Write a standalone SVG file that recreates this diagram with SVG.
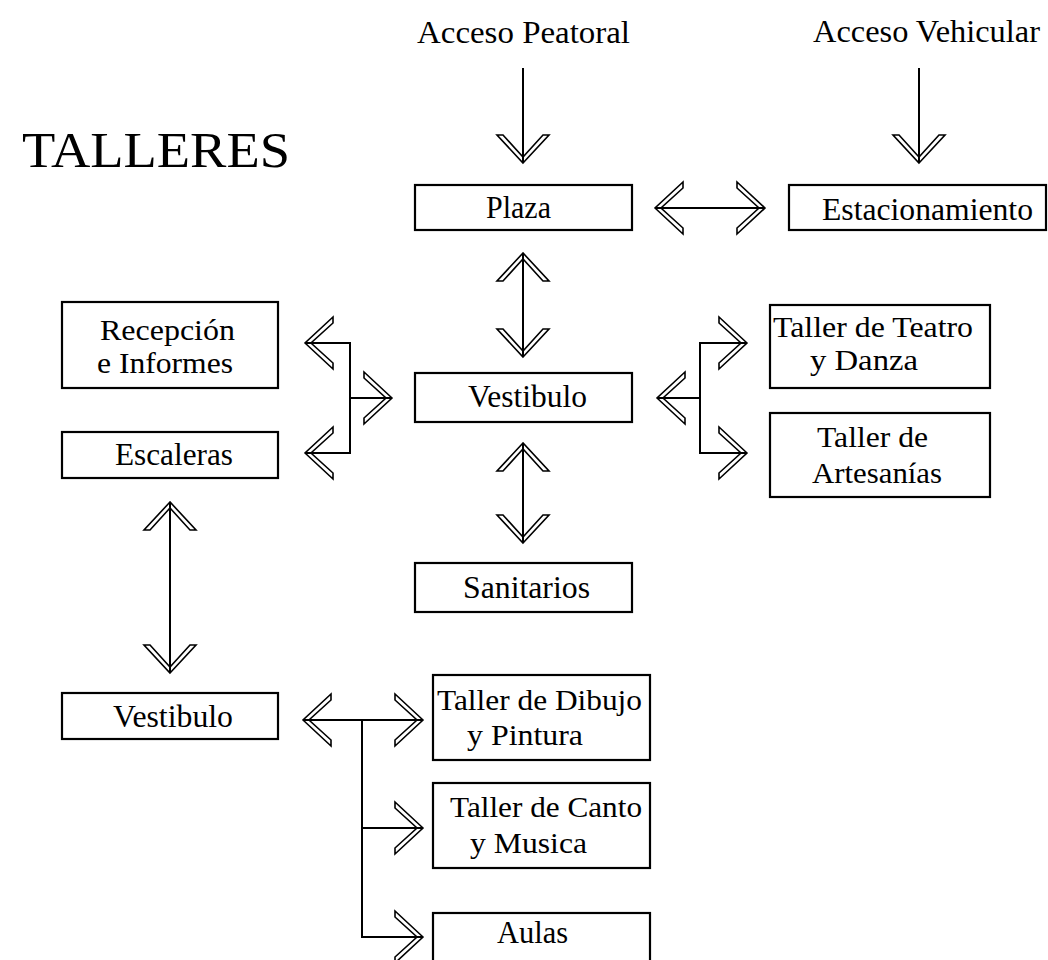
<svg xmlns="http://www.w3.org/2000/svg" xmlns:xlink="http://www.w3.org/1999/xlink" width="1048" height="960" viewBox="0 0 1048 960">
<style>
.box{fill:#fff;stroke:#000;stroke-width:2.2}
.t{font-family:"Liberation Serif","Times New Roman",serif;font-size:31px;fill:#000}
.t2{font-family:"Liberation Serif","Times New Roman",serif;font-size:29.5px;fill:#000}
.title{font-family:"Liberation Serif","Times New Roman",serif;font-size:51px;fill:#000}
.ln{fill:none;stroke:#000;stroke-width:2}
.ch{fill:none;stroke:#000;stroke-width:1.6;stroke-linejoin:miter}
</style>
<defs>
<polygon id="chR" points="0,0 -28,-26 -28,-20 -6,0 -28,20 -28,26"/>
</defs>
<rect width="1048" height="960" fill="#fff"/>
<text class="title" x="22" y="167" textLength="268" lengthAdjust="spacingAndGlyphs">TALLERES</text>
<text class="t" x="417" y="43" textLength="213" lengthAdjust="spacingAndGlyphs">Acceso Peatoral</text>
<text class="t" x="813" y="42" textLength="227" lengthAdjust="spacingAndGlyphs">Acceso Vehicular</text>

<g id="plaza"><rect class="box" x="415" y="185" width="217" height="45"/><text class="t" x="486" y="218" textLength="65" lengthAdjust="spacingAndGlyphs">Plaza</text></g>
<g id="estacionamiento"><rect class="box" x="789" y="185" width="257" height="45"/><text class="t" x="822" y="220" textLength="211" lengthAdjust="spacingAndGlyphs">Estacionamiento</text></g>
<g id="recepcion"><rect class="box" x="62" y="302" width="216" height="86"/><text class="t2" x="100" y="340" textLength="135" lengthAdjust="spacingAndGlyphs">Recepción</text><text class="t2" x="97" y="373" textLength="136" lengthAdjust="spacingAndGlyphs">e Informes</text></g>
<g id="escaleras"><rect class="box" x="62" y="432" width="216" height="46"/><text class="t" x="115" y="465" textLength="118" lengthAdjust="spacingAndGlyphs">Escaleras</text></g>
<g id="vestibulo1"><rect class="box" x="415" y="373" width="217" height="49"/><text class="t" x="468" y="407" textLength="119" lengthAdjust="spacingAndGlyphs">Vestibulo</text></g>
<g id="teatro"><rect class="box" x="770" y="305" width="220" height="83"/><text class="t2" x="773" y="337" textLength="200" lengthAdjust="spacingAndGlyphs">Taller de Teatro</text><text class="t2" x="810" y="370" textLength="108" lengthAdjust="spacingAndGlyphs">y Danza</text></g>
<g id="artesanias"><rect class="box" x="770" y="413" width="220" height="84"/><text class="t2" x="817" y="447" textLength="111" lengthAdjust="spacingAndGlyphs">Taller de</text><text class="t2" x="812" y="483" textLength="130" lengthAdjust="spacingAndGlyphs">Artesanías</text></g>
<g id="sanitarios"><rect class="box" x="415" y="563" width="217" height="49"/><text class="t" x="463" y="598" textLength="127" lengthAdjust="spacingAndGlyphs">Sanitarios</text></g>
<g id="vestibulo2"><rect class="box" x="62" y="693" width="216" height="46"/><text class="t" x="113" y="727" textLength="120" lengthAdjust="spacingAndGlyphs">Vestibulo</text></g>
<g id="dibujo"><rect class="box" x="433" y="675" width="217" height="85"/><text class="t2" x="437" y="710" textLength="205" lengthAdjust="spacingAndGlyphs">Taller de Dibujo</text><text class="t2" x="467" y="745" textLength="116" lengthAdjust="spacingAndGlyphs">y Pintura</text></g>
<g id="canto"><rect class="box" x="433" y="783" width="217" height="85"/><text class="t2" x="450" y="817" textLength="192" lengthAdjust="spacingAndGlyphs">Taller de Canto</text><text class="t2" x="470" y="853" textLength="117" lengthAdjust="spacingAndGlyphs">y Musica</text></g>
<g id="aulas"><rect class="box" x="433" y="913" width="217" height="60"/><text class="t" x="497" y="943" textLength="71" lengthAdjust="spacingAndGlyphs">Aulas</text></g>

<g id="connectors">
<path class="ln" d="M523,68V163 M919,68V163 M655,208H765 M523,253V357 M523,443V543 M305,343H350V453H305 M350,398H392 M657,398H700 M747,343H700V453H747 M170,502V673 M303,720H423 M362,720V937H423 M362,828H423"/>
<use xlink:href="#chR" class="ch" transform="translate(523,163) rotate(90)"/>
<use xlink:href="#chR" class="ch" transform="translate(919,163) rotate(90)"/>
<use xlink:href="#chR" class="ch" transform="translate(655,208) rotate(180)"/>
<use xlink:href="#chR" class="ch" transform="translate(765,208)"/>
<use xlink:href="#chR" class="ch" transform="translate(523,253) rotate(-90)"/>
<use xlink:href="#chR" class="ch" transform="translate(523,357) rotate(90)"/>
<use xlink:href="#chR" class="ch" transform="translate(523,443) rotate(-90)"/>
<use xlink:href="#chR" class="ch" transform="translate(523,543) rotate(90)"/>
<use xlink:href="#chR" class="ch" transform="translate(305,343) rotate(180)"/>
<use xlink:href="#chR" class="ch" transform="translate(305,453) rotate(180)"/>
<use xlink:href="#chR" class="ch" transform="translate(392,398)"/>
<use xlink:href="#chR" class="ch" transform="translate(657,398) rotate(180)"/>
<use xlink:href="#chR" class="ch" transform="translate(747,343)"/>
<use xlink:href="#chR" class="ch" transform="translate(747,453)"/>
<use xlink:href="#chR" class="ch" transform="translate(170,502) rotate(-90)"/>
<use xlink:href="#chR" class="ch" transform="translate(170,673) rotate(90)"/>
<use xlink:href="#chR" class="ch" transform="translate(303,720) rotate(180)"/>
<use xlink:href="#chR" class="ch" transform="translate(423,720)"/>
<use xlink:href="#chR" class="ch" transform="translate(423,828)"/>
<use xlink:href="#chR" class="ch" transform="translate(423,937)"/>
</g>
</svg>
